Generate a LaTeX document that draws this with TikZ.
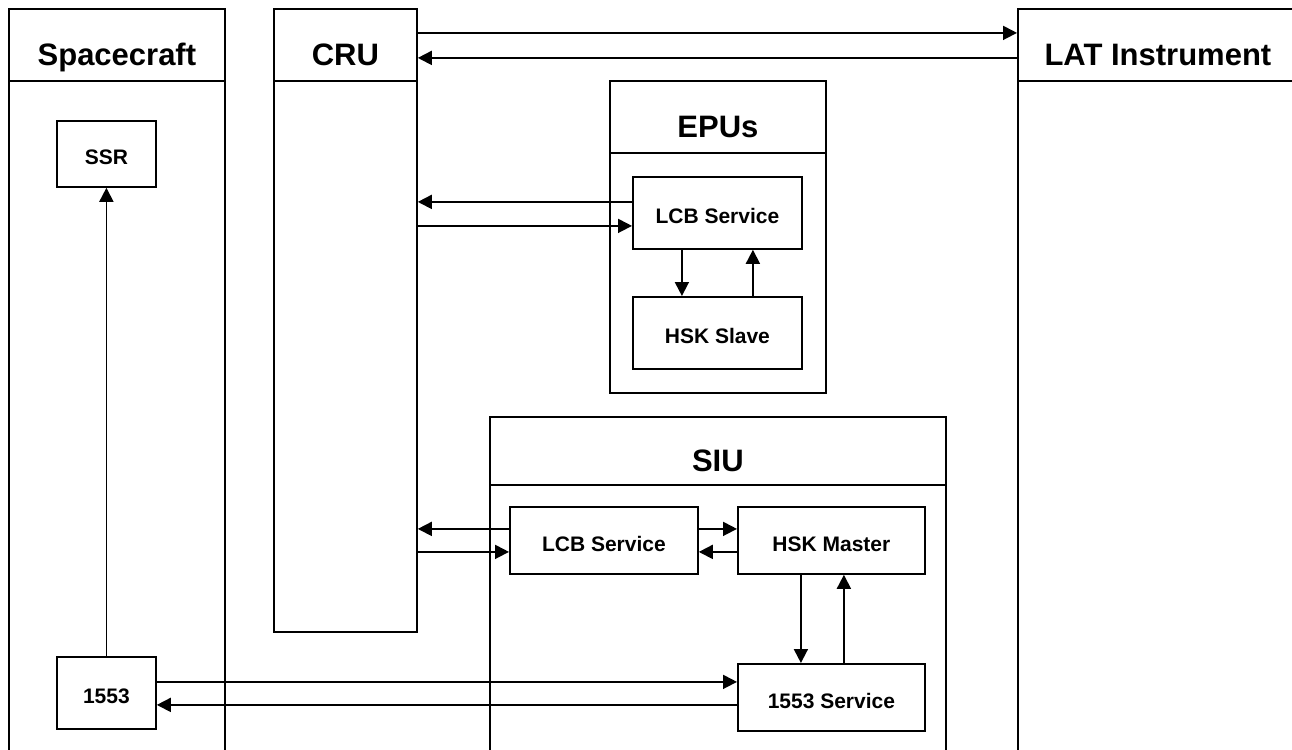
\documentclass[tikz,border=0pt]{standalone}
\usepackage{fontspec}
\setmainfont{Liberation Sans}
\usetikzlibrary{arrows.meta}
\begin{document}
\begin{tikzpicture}[x=1pt,y=-1pt,
  box/.style={draw, line width=1.8pt, inner sep=0pt, anchor=north west, text height=22pt, text depth=0pt, font=\bfseries\fontsize{21}{24}\selectfont},
  hdr/.style={draw, line width=1.8pt, inner sep=0pt, anchor=north west, text height=42pt, text depth=0pt, font=\bfseries\fontsize{31}{36}\selectfont},
  arr/.style={line width=1.8pt, -{Triangle[length=14pt,width=14pt]}}]
\useasboundingbox (0,0) rectangle (1292,749);
\clip (0,0) rectangle (1292,749);
% lanes
\node[hdr, minimum width=216pt, minimum height=72pt] (scH) at (8,8) {Spacecraft};
\node[hdr, minimum width=216pt, minimum height=700pt] (scB) at (8,80) {};
\node[hdr, minimum width=143pt, minimum height=72pt] (cruH) at (273,8) {CRU};
\node[hdr, minimum width=143pt, minimum height=551pt] (cruB) at (273,80) {};
\node[hdr, minimum width=280pt, minimum height=72pt] (latH) at (1017,8) {LAT Instrument};
\node[hdr, minimum width=280pt, minimum height=700pt] (latB) at (1017,80) {};
\node[hdr, minimum width=216pt, minimum height=72pt] (epuH) at (609,80) {EPUs};
\node[hdr, minimum width=216pt, minimum height=240pt] (epuB) at (609,152) {};
\node[hdr, minimum width=456pt, minimum height=68pt] (siuH) at (489,416) {SIU};
\node[hdr, minimum width=456pt, minimum height=300pt] (siuB) at (489,484) {};
% inner boxes
\node[box, minimum width=99pt, minimum height=66pt] (ssr) at (56,120) {SSR};
\node[box, minimum width=99pt, minimum height=72pt] (mil) at (56,656) {1553};
\node[box, minimum width=169pt, minimum height=72pt] (elcb) at (632,176) {LCB Service};
\node[box, minimum width=169pt, minimum height=72pt] (hsks) at (632,296) {HSK Slave};
\node[box, minimum width=188pt, minimum height=67pt] (slcb) at (509,506) {LCB Service};
\node[box, minimum width=187pt, minimum height=67pt] (hskm) at (737,506) {HSK Master};
\node[box, minimum width=187pt, minimum height=67pt] (svc) at (737,663) {1553 Service};
% connectors
\draw[arr] ([yshift=12pt]cruH.east) -- ([yshift=12pt]cruH.east -| latH.west);
\draw[arr] ([yshift=-13pt]latH.west) -- ([yshift=-13pt]latH.west -| cruH.east);
\draw[arr] ([yshift=11pt]elcb.west) -- ([yshift=11pt]elcb.west -| cruB.east);
\draw[arr] ([yshift=-13pt]elcb.west -| cruB.east) -- ([yshift=-13pt]elcb.west);
\draw[arr] ([xshift=-35.5pt]elcb.south) -- ([xshift=-35.5pt]hsks.north);
\draw[arr] ([xshift=35.5pt]hsks.north) -- ([xshift=35.5pt]elcb.south);
\draw[arr] ([yshift=11.5pt]slcb.west) -- ([yshift=11.5pt]slcb.west -| cruB.east);
\draw[arr] ([yshift=-11.5pt]slcb.west -| cruB.east) -- ([yshift=-11.5pt]slcb.west);
\draw[arr] ([yshift=11.5pt]slcb.east) -- ([yshift=11.5pt]slcb.east -| hskm.west);
\draw[arr] ([yshift=-11.5pt]hskm.west) -- ([yshift=-11.5pt]hskm.west -| slcb.east);
\draw[arr] ([xshift=-30.5pt]hskm.south) -- ([xshift=-30.5pt]hskm.south |- svc.north);
\draw[arr] ([xshift=12.5pt]hskm.south |- svc.north) -- ([xshift=12.5pt]hskm.south);
\draw[arr] (mil.north) -- (ssr.south);
\draw[arr] ([yshift=11pt]mil.east) -- ([yshift=11pt]mil.east -| svc.west);
\draw[arr] ([yshift=-12pt]mil.east -| svc.west) -- ([yshift=-12pt]mil.east);
\end{tikzpicture}
\end{document}
